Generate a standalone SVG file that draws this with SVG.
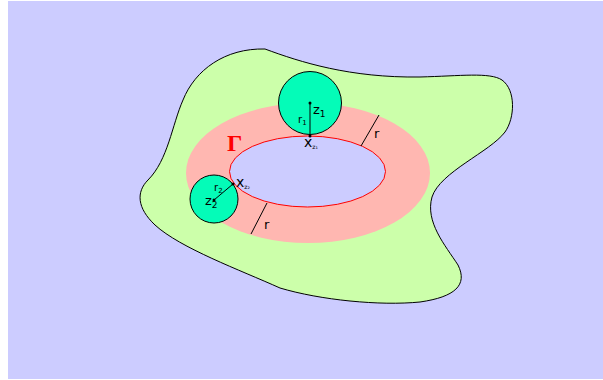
<svg xmlns="http://www.w3.org/2000/svg" width="603" height="380" viewBox="0 0 603 380">
<style>
.lbl{font-family:"DejaVu Sans","Liberation Sans",sans-serif;fill:#000}
.ln{stroke:#000;stroke-width:1;fill:none}
.disk{fill:#04fcb8;stroke:#000;stroke-width:1}
</style>
<rect x="0" y="0" width="603" height="380" fill="#fff"/>
<rect x="8" y="1" width="595" height="378" fill="#ccccff"/>
<g id="domain">
<path d="M 265,49 C 300,62 350,78 420,77 C 460,76 490,72 502,80 C 516,90 515,118 505,132 C 490,152 440,172 432,197 C 425,222 445,245 458,265 C 468,285 455,297 420,302 C 380,306 320,300 280,288 C 240,270 180,248 155,225 C 137,208 136,192 148,180 C 168,160 172,125 183,100 C 195,70 225,48 265,49 Z" fill="#ccffaa" stroke="#000" stroke-width="1"/>
</g>
<g id="tube">
<ellipse cx="308" cy="173" rx="122" ry="70" fill="#ffb7b1"/>
</g>
<g id="gamma">
<ellipse cx="307.5" cy="171.5" rx="78" ry="35.5" fill="#ccccff" stroke="#ff0000" stroke-width="1"/>
<text x="227" y="151" font-family="Liberation Serif,serif" font-weight="bold" font-size="24" fill="#ff0000">Γ</text>
</g>
<g id="ball1">
<circle class="disk" cx="310" cy="103" r="31.5"/>
<line class="ln" x1="310" y1="103" x2="310" y2="136"/>
<circle cx="310" cy="103" r="1.5" fill="#000"/>
<circle cx="310" cy="136" r="1.5" fill="#000"/>
<text class="lbl" x="313" y="114" font-size="13">z<tspan font-size="9" dy="3">1</tspan></text>
<text class="lbl" x="298" y="123" font-size="10">r<tspan font-size="7" dy="2">1</tspan></text>
<text class="lbl" x="304" y="147" font-size="14">x<tspan font-size="6" dy="2">z₁</tspan></text>
</g>
<g id="ball2">
<circle class="disk" cx="214" cy="199" r="24"/>
<line class="ln" x1="214" y1="200" x2="233" y2="184"/>
<circle cx="214" cy="200" r="1.5" fill="#000"/>
<circle cx="233" cy="184" r="1.5" fill="#000"/>
<text class="lbl" x="205" y="205" font-size="13">z<tspan font-size="9" dy="3">2</tspan></text>
<text class="lbl" x="214" y="191" font-size="10">r<tspan font-size="7" dy="2">2</tspan></text>
<text class="lbl" x="236" y="187" font-size="14">x<tspan font-size="6" dy="2">z₂</tspan></text>
</g>
<g id="connectors">
<line class="ln" x1="361" y1="146" x2="379" y2="115"/>
<line class="ln" x1="267" y1="203" x2="251" y2="234"/>
<text class="lbl" x="374" y="138" font-size="13">r</text>
<text class="lbl" x="264" y="229" font-size="13">r</text>
</g>
</svg>
